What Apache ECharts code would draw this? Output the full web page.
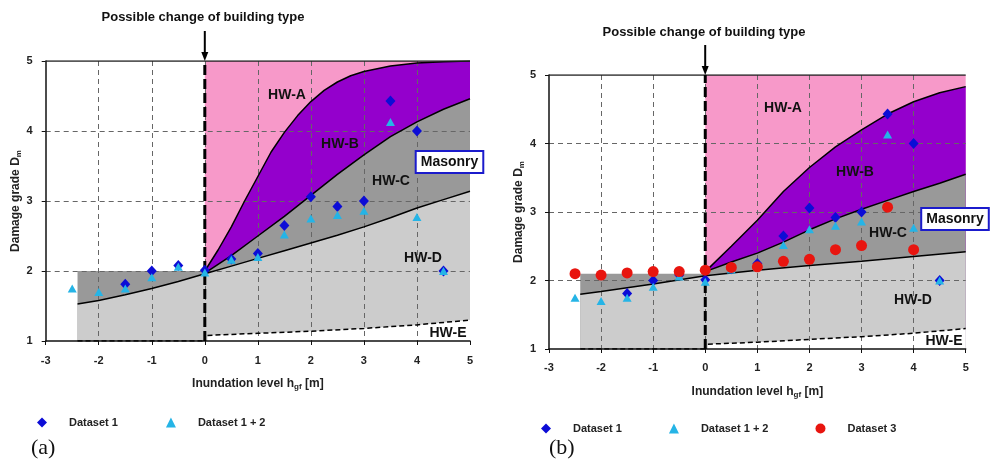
<!DOCTYPE html>
<html>
<head>
<meta charset="utf-8">
<script src="https://cdn.jsdelivr.net/npm/echarts@6/dist/echarts.min.js"></script>
<style>html,body{margin:0;padding:0;background:#fff}#c{width:994px;height:467px}</style>
</head>
<body>
<div id="c"></div>
<script>
// ---------- data ----------
const xTicks = [-3, 5];
const yTicks = [1, 5];
// scatter data (same measurements in both panels)
const ds1X = [-1.5, -1, -0.5, 0, 0.5, 1, 1.5, 2, 2.5, 3, 3.5, 4, 4.5];
const ds1Y = [1.81, 2.0, 2.08, 2.01, 2.17, 2.25, 2.65, 3.06, 2.92, 3.0, 4.43, 4.0, 2.0];
const ds12X = [-2.5, -2, -1.5, -1, -0.5, 0, 0.5, 1, 1.5, 2, 2.5, 3, 3.5, 4, 4.5];
const ds12Y = [1.75, 1.7, 1.75, 1.91, 2.06, 1.98, 2.16, 2.2, 2.52, 2.75, 2.8, 2.86, 4.13, 2.77, 2.0];
const ds3X = [-2.5, -2, -1.5, -1, -0.5, 0, 0.5, 1, 1.5, 2, 2.5, 3, 3.5, 4];
const ds3Y = [2.1, 2.08, 2.11, 2.13, 2.13, 2.15, 2.19, 2.2, 2.28, 2.31, 2.45, 2.51, 3.07, 2.45];

// panel (a) boundary curves
const aAB = [[0,2],[0.25,2.3],[0.5,2.63],[0.75,3.0],[1,3.35],[1.25,3.7],[1.5,3.98],[1.75,4.22],[2,4.42],[2.25,4.58],[2.5,4.7],[2.75,4.79],[3,4.85],[3.5,4.93],[4,4.97],[4.5,4.99],[5,5]];
const aBC = [[0,1.97],[0.5,2.22],[1,2.5],[1.5,2.78],[2,3.08],[2.5,3.38],[3,3.66],[3.5,3.92],[4,4.13],[4.5,4.31],[5,4.46]];
const aCD = [[-2.4,1.53],[-2,1.58],[-1.5,1.66],[-1,1.75],[-0.5,1.85],[0,1.96],[0.5,2.07],[1,2.18],[1.5,2.29],[2,2.4],[2.5,2.51],[3,2.63],[3.5,2.76],[4,2.9],[4.5,3.02],[5,3.14]];
const aE = [[0.05,1.08],[1,1.11],[2,1.14],[3,1.18],[4,1.23],[5,1.3]];
const aLeftTop = 2.0;

// panel (b) boundary curves
const bAB = [[0,2.13],[0.5,2.5],[1,2.88],[1.5,3.3],[2,3.65],[2.5,3.95],[3,4.2],[3.5,4.43],[4,4.61],[4.5,4.74],[5,4.83]];
const bBC = [[0,2.13],[0.5,2.27],[1,2.4],[1.5,2.56],[2,2.74],[2.5,2.9],[3,3.04],[3.5,3.17],[4,3.3],[4.5,3.42],[5,3.55]];
const bCD = [[-2.4,1.8],[-2,1.84],[-1,1.95],[0,2.07],[1,2.15],[2,2.22],[3,2.28],[4,2.35],[5,2.42]];
const bE = [[0.05,1.07],[1,1.1],[2,1.14],[3,1.18],[4,1.23],[5,1.3]];
const bLeftTop = 2.1;

const zoneStartX = -2.4;
const changeX = 0;

// ---------- styles ----------
const FONT = '"Liberation Sans", Arial, sans-serif';
const PINK = '#f799c9', PURPLE = '#9400cc', DARK = '#999999', LIGHT = '#cccccc';
const BLUE = '#0c0cd6', CYAN = '#25b4e6', RED = '#e8150f';

const zip = (xs, ys) => xs.map((x, i) => [x, ys[i]]);

function panelAxes(gi, margins) {
  const common = {
    gridIndex: gi, type: 'value', interval: 1, z: 6,
    axisLine: {show: true, onZero: false, lineStyle: {color: '#111', width: 1.5}},
    axisTick: {show: true, length: 4, lineStyle: {color: '#111'}},
    splitLine: {show: true, showMinLine: false, showMaxLine: false,
      lineStyle: {color: '#666', type: [5, 4], width: 1}},
    axisLabel: {fontFamily: FONT, fontWeight: 'bold', fontSize: 11, color: '#222'},
    nameTextStyle: {fontFamily: FONT, fontWeight: 'bold', fontSize: 12, color: '#222',
      rich: {sub: {fontFamily: FONT, fontWeight: 'bold', fontSize: 8, color: '#222', padding: [6, 0, 0, 0]}}}
  };
  const x = Object.assign({}, common, {
    min: xTicks[0], max: xTicks[1],
    name: 'Inundation level h{sub|gf} [m]', nameLocation: 'middle', nameGap: margins.xName,
    axisLabel: Object.assign({}, common.axisLabel, {margin: margins.xLab})
  });
  const y = Object.assign({}, common, {
    min: yTicks[0], max: yTicks[1],
    name: 'Damage grade D{sub|m}', nameLocation: 'middle', nameGap: margins.yName,
    axisLabel: Object.assign({}, common.axisLabel, {margin: margins.yLab})
  });
  return {x, y};
}

function areaSeries(gi, data, color, z) {
  return {type: 'line', xAxisIndex: gi, yAxisIndex: gi, data, symbol: 'none', silent: true,
    lineStyle: {width: 0, opacity: 0}, areaStyle: {color, opacity: 1, origin: 'start'}, z, animation: false};
}
function lineSeries(gi, data, opts) {
  return Object.assign({type: 'line', xAxisIndex: gi, yAxisIndex: gi, data, symbol: 'none', silent: true,
    lineStyle: {color: '#000', width: 1.5}, z: 7, animation: false}, opts || {});
}
function panelSeries(gi, AB, BC, CD, E, leftTop, withDs3) {
  const s = [];
  s.push(areaSeries(gi, [[changeX, yTicks[1]], [xTicks[1], yTicks[1]]], PINK, 1));
  s.push(areaSeries(gi, AB, PURPLE, 2));
  s.push(areaSeries(gi, [[zoneStartX, leftTop], [changeX, leftTop]], DARK, 3));
  s.push(areaSeries(gi, BC, DARK, 3));
  s.push(areaSeries(gi, CD, LIGHT, 4));
  s.push(areaSeries(gi, E, '#ffffff', 5));
  s.push(lineSeries(gi, AB));
  s.push(lineSeries(gi, BC));
  s.push(lineSeries(gi, CD));
  s.push(lineSeries(gi, E, {lineStyle: {color: '#000', width: 1.5, type: [5, 3]}}));
  s.push(lineSeries(gi, [[zoneStartX, yTicks[0]], [changeX, yTicks[0]]], {lineStyle: {color: '#000', width: 1.5, type: [5, 3]}, z: 8}));
  s.push(lineSeries(gi, [[xTicks[0], yTicks[1]], [xTicks[1], yTicks[1]]], {lineStyle: {color: '#222', width: 1.5}, z: 8}));
  s.push(lineSeries(gi, [[changeX, yTicks[0]], [changeX, yTicks[1]]], {lineStyle: {color: '#000', width: 3, type: [10, 4]}, z: 8}));
  s.push({type: 'scatter', name: 'Dataset 1', xAxisIndex: gi, yAxisIndex: gi, data: zip(ds1X, ds1Y),
    symbol: 'diamond', symbolSize: [10, 11], itemStyle: {color: BLUE, opacity: 1}, z: 9, animation: false});
  s.push({type: 'scatter', name: 'Dataset 1 + 2', xAxisIndex: gi, yAxisIndex: gi, data: zip(ds12X, ds12Y),
    symbol: 'triangle', symbolSize: [9, 8], itemStyle: {color: CYAN, opacity: 1}, z: 10, animation: false});
  if (withDs3) s.push({type: 'scatter', name: 'Dataset 3', xAxisIndex: gi, yAxisIndex: gi, data: zip(ds3X, ds3Y),
    symbol: 'circle', symbolSize: 11, itemStyle: {color: RED, opacity: 1}, z: 11, animation: false});
  return s;
}

const axA = panelAxes(0, {xLab: 14, xName: 36, yLab: 13, yName: 20});
const axB = panelAxes(1, {xLab: 13, xName: 36, yLab: 13, yName: 22});

function hwLabel(x, y, t) {
  return {type: 'text', x, y, z: 50, style: {text: t, font: 'bold 14px ' + FONT, fill: '#111', align: 'center', verticalAlign: 'middle'}};
}
function masonry(x, y) {
  return {type: 'text', x, y, z: 50, style: {text: 'Masonry', font: 'bold 14px ' + FONT, fill: '#111',
    align: 'center', verticalAlign: 'middle', backgroundColor: '#fff', borderColor: '#1b1bcc', borderWidth: 2, padding: [3, 4, 3, 4]}};
}
function title(x, y) {
  return {type: 'text', x, y, z: 50, style: {text: 'Possible change of building type', font: 'bold 13px ' + FONT,
    fill: '#111', align: 'center', verticalAlign: 'middle'}};
}
function arrow(x, y0, y1) {
  return [
    {type: 'line', z: 50, shape: {x1: x, y1: y0, x2: x, y2: y1 - 7}, style: {stroke: '#000', lineWidth: 2}},
    {type: 'polygon', z: 50, shape: {points: [[x - 3.5, y1 - 9], [x + 3.5, y1 - 9], [x, y1]]}, style: {fill: '#000'}}
  ];
}
function panelTag(x, y, t) {
  return {type: 'text', x, y, z: 50, style: {text: t, font: '22px "Liberation Serif", "DejaVu Serif", serif', fill: '#111', align: 'left', verticalAlign: 'middle'}};
}

const legendText = {fontFamily: FONT, fontWeight: 'bold', fontSize: 11, color: '#222', padding: [0, 0, 0, 17]};

const option = {
  animation: false,
  backgroundColor: '#ffffff',
  grid: [
    {left: 45.7, top: 61, width: 424.3, height: 280, containLabel: false},
    {left: 549, top: 75, width: 416.7, height: 274, containLabel: false}
  ],
  xAxis: [axA.x, axB.x],
  yAxis: [axA.y, axB.y],
  legend: [
    {left: 32, top: 412, itemWidth: 10, itemHeight: 10, itemGap: 48, textStyle: legendText,
      data: [{name: 'Dataset 1', icon: 'diamond'}, {name: 'Dataset 1 + 2', icon: 'triangle'}], selectedMode: false},
    {left: 536, top: 418, itemWidth: 10, itemHeight: 10, itemGap: 47, textStyle: legendText,
      data: [{name: 'Dataset 1', icon: 'diamond'}, {name: 'Dataset 1 + 2', icon: 'triangle'}, {name: 'Dataset 3', icon: 'circle'}], selectedMode: false}
  ],
  graphic: [
    title(203, 17), title(704, 32),
    ...arrow(204.8, 31, 61), ...arrow(705.2, 45, 75),
    hwLabel(287, 95, 'HW-A'), hwLabel(340, 144, 'HW-B'), hwLabel(391, 181, 'HW-C'), hwLabel(423, 258, 'HW-D'), hwLabel(448, 333, 'HW-E'),
    hwLabel(783, 108, 'HW-A'), hwLabel(855, 172, 'HW-B'), hwLabel(888, 233, 'HW-C'), hwLabel(913, 300, 'HW-D'), hwLabel(944, 341, 'HW-E'),
    masonry(449.5, 162), masonry(955, 219),
    panelTag(31, 448, '(a)'), panelTag(549, 448, '(b)')
  ],
  series: [].concat(
    panelSeries(0, aAB, aBC, aCD, aE, aLeftTop, false),
    panelSeries(1, bAB, bBC, bCD, bE, bLeftTop, true)
  )
};

const chart = echarts.init(document.getElementById('c'), null, {renderer: 'canvas'});
chart.setOption(option);
</script>
</body>
</html>
